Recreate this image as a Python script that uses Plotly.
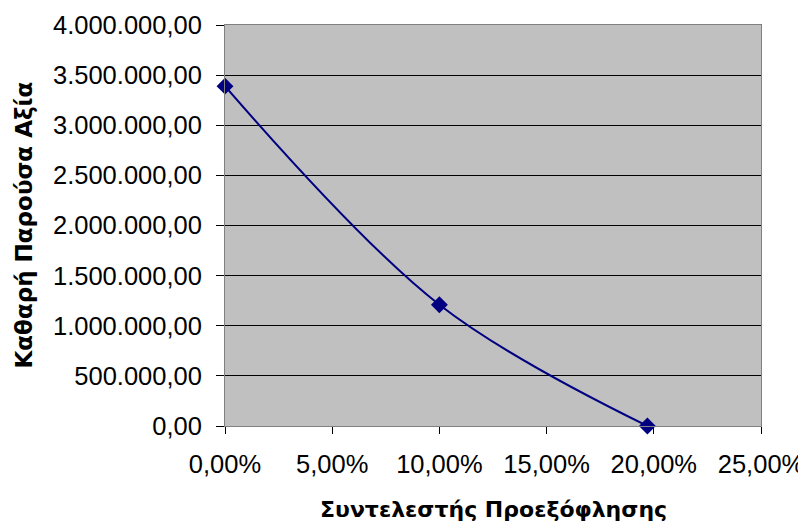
import plotly.graph_objects as go

rates = [0.0, 0.10, 0.197]
npv = [3390000, 1210000, 0]

y_ticks = [0, 500000, 1000000, 1500000, 2000000, 2500000, 3000000, 3500000, 4000000]
x_ticks = [0.0, 0.05, 0.10, 0.15, 0.20, 0.25]

x_title = "Συντελεστής Προεξόφλησης"
y_title = "Καθαρή Παρούσα Αξία"

fig = go.Figure()
fig.add_trace(go.Scatter(
    x=rates, y=npv, mode="lines+markers",
    line=dict(color="#000080", width=2, shape="spline", smoothing=1),
    marker=dict(symbol="diamond", size=13, color="#000080"),
    showlegend=False, cliponaxis=False,
))

x_tick_font = dict(family="Liberation Sans, Arial, sans-serif", size=25.5, color="#000000")
y_tick_font = dict(family="Liberation Sans, Arial, sans-serif", size=25.5, color="#000000")
x_title_font = dict(family="DejaVu Sans, Verdana, sans-serif", size=22, color="#000000")
y_title_font = dict(family="DejaVu Sans, Verdana, sans-serif", size=23, color="#000000")

fig.update_layout(
    width=798, height=519,
    margin=dict(l=217, r=45, t=17, b=101),
    paper_bgcolor="#FFFFFF", plot_bgcolor="#C0C0C0",
    separators=",.",
    xaxis=dict(
        range=[0, 0.25], tickvals=x_ticks, tickformat=".2%",
        ticks="outside", ticklen=7, tickcolor="#000000", tickwidth=1,
        showgrid=False, zeroline=False, automargin=False,
        showline=True, linecolor="#808080", linewidth=1, mirror=True,
        tickfont=x_tick_font, ticklabelstandoff=8,
    ),
    yaxis=dict(
        range=[0, 4000000], tickvals=y_ticks, tickformat=",.2f",
        ticks="outside", ticklen=8, tickcolor="#000000", tickwidth=1,
        showgrid=True, gridcolor="#000000", gridwidth=1, zeroline=False,
        automargin=False,
        showline=True, linecolor="#808080", linewidth=1, mirror=True,
        tickfont=y_tick_font, ticklabelstandoff=9,
    ),
    annotations=[
        dict(text="<b>" + x_title + "</b>", font=x_title_font,
             xref="paper", yref="paper", x=0.5, y=0, yshift=-83,
             xanchor="center", yanchor="middle", showarrow=False),
        dict(text="<b>" + y_title + "</b>", font=y_title_font, textangle=-90,
             xref="paper", yref="paper", x=0, y=0.5, xshift=-202,
             xanchor="center", yanchor="middle", showarrow=False),
    ],
)

fig.write_html("out.html")
